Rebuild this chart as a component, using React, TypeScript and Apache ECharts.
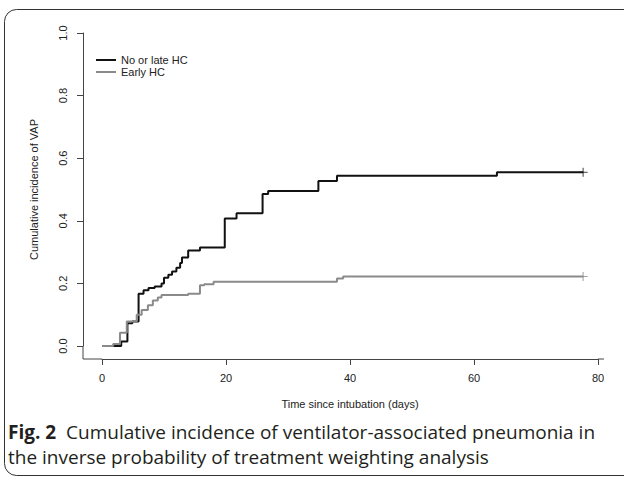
import React, { useEffect, useRef } from "react";
import * as echarts from "echarts";

// Time since intubation (days) and cumulative incidence
const lateTimes = [0, 3.1, 4.1, 4.9, 5.9, 6.7, 7.5, 8.5, 9.6, 10.0, 10.7, 11.3, 12.0, 12.6, 12.9, 13.9, 15.8, 19.8, 21.7, 25.9, 26.8, 34.9, 37.9, 63.7, 77.6];
const lateValues = [0, 0.014, 0.073, 0.078, 0.167, 0.178, 0.185, 0.19, 0.2, 0.218, 0.228, 0.238, 0.25, 0.265, 0.283, 0.305, 0.315, 0.407, 0.424, 0.486, 0.495, 0.527, 0.544, 0.555, 0.555];

const earlyTimes = [0, 1.8, 2.9, 4.0, 5.6, 6.4, 7.4, 8.2, 9.0, 9.6, 13.9, 15.8, 16.5, 18.0, 37.9, 38.9, 77.6];
const earlyValues = [0, 0.006, 0.042, 0.078, 0.1, 0.115, 0.13, 0.145, 0.155, 0.163, 0.167, 0.194, 0.197, 0.205, 0.216, 0.222, 0.222];

const seriesNames = ["No or late HC", "Early HC"];
const xTicks = { min: 0, max: 80, interval: 20 };
const yTicks = { min: 0, max: 1, interval: 0.2 };

const xTitle = "Time since intubation (days)";
const yTitle = "Cumulative incidence of VAP";
const captionBold = "Fig. 2";
const captionLine1 = "Cumulative incidence of ventilator-associated pneumonia in";
const captionLine2 = "the inverse probability of treatment weighting analysis";

const pairs = (t: number[], v: number[]) => t.map((x, i) => [x, v[i]]);

const PLUS = "path://M0,5L10,5M5,0L5,10";

export default function App() {
  const ref = useRef<HTMLDivElement>(null);
  useEffect(() => {
    if (!ref.current) return;
    const chart = echarts.init(ref.current, null, { renderer: "svg" });
    const axisColor = "#444";
    const font = "Liberation Sans, Arial, sans-serif";
    const lastLate = lateTimes.length - 1;
    const lastEarly = earlyTimes.length - 1;
    chart.setOption({
      animation: false,
      backgroundColor: "#fff",
      grid: { left: 102, right: 26, top: 33, bottom: 133, containLabel: false },
      legend: {
        data: seriesNames,
        orient: "vertical",
        left: 91,
        top: 49,
        itemGap: 0,
        itemWidth: 20,
        itemHeight: 2,
        icon: "rect",
        textStyle: { fontSize: 11, color: "#222", fontFamily: font, lineHeight: 12 },
      },
      xAxis: {
        type: "value",
        min: xTicks.min,
        max: xTicks.max,
        interval: xTicks.interval,
        offset: 13,
        axisLine: { show: true, onZero: false, lineStyle: { color: axisColor, width: 1 } },
        axisTick: { show: true, length: 6, lineStyle: { color: axisColor } },
        axisLabel: { fontSize: 11, color: "#222", fontFamily: font, margin: 13 },
        splitLine: { show: false },
        name: xTitle,
        nameLocation: "middle",
        nameGap: 39,
        nameTextStyle: { fontSize: 11, color: "#222", fontFamily: font },
      },
      yAxis: {
        type: "value",
        min: yTicks.min,
        max: yTicks.max,
        interval: yTicks.interval,
        offset: 19,
        axisLine: { show: true, onZero: false, lineStyle: { color: axisColor, width: 1 } },
        axisTick: { show: true, length: 6, lineStyle: { color: axisColor } },
        axisLabel: {
          fontSize: 11,
          color: "#222",
          fontFamily: font,
          rotate: 90,
          margin: 15,
          formatter: (v: number) => v.toFixed(1),
        },
        splitLine: { show: false },
        name: yTitle,
        nameLocation: "middle",
        nameGap: 44,
        nameRotate: 90,
        nameTextStyle: { fontSize: 11, color: "#222", fontFamily: font },
      },
      series: [
        {
          name: seriesNames[0],
          type: "line",
          step: "end",
          symbol: "none",
          data: pairs(lateTimes, lateValues),
          lineStyle: { color: "#111", width: 2 },
          itemStyle: { color: "#111" },
        },
        {
          name: seriesNames[1],
          type: "line",
          step: "end",
          symbol: "none",
          data: pairs(earlyTimes, earlyValues),
          lineStyle: { color: "#8a8a8a", width: 2 },
          itemStyle: { color: "#8a8a8a" },
        },
        {
          type: "scatter",
          symbol: PLUS,
          symbolSize: 9,
          data: [[lateTimes[lastLate], lateValues[lastLate]]],
          itemStyle: { color: "none", borderColor: "#111", borderWidth: 1 },
        },
        {
          type: "scatter",
          symbol: PLUS,
          symbolSize: 9,
          data: [[earlyTimes[lastEarly], earlyValues[lastEarly]]],
          itemStyle: { color: "none", borderColor: "#8a8a8a", borderWidth: 1 },
        },
      ],
      graphic: [
        {
          type: "rect",
          shape: { x: 4.5, y: 9.5, width: 680, height: 466, r: 12 },
          style: { fill: "none", stroke: "#333", lineWidth: 1 },
          silent: true,
        },
        {
          type: "polyline",
          shape: { points: [[83, 346], [83, 359], [102, 359]] },
          style: { stroke: axisColor, lineWidth: 1, fill: "none" },
          silent: true,
        },
        {
          type: "line",
          shape: { x1: 598, y1: 359, x2: 604, y2: 359 },
          style: { stroke: axisColor, lineWidth: 1 },
          silent: true,
        },
        {
          type: "text",
          left: 8,
          top: 419,
          style: {
            text: `{b|${captionBold}}  ${captionLine1}\n${captionLine2}`,
            fill: "#231f20",
            font: "19px 'Open Sans', sans-serif",
            lineHeight: 25,
            rich: {
              b: { fontWeight: "bold", fontSize: 19, fontFamily: "Open Sans", fill: "#231f20", lineHeight: 25 },
            },
          },
        },
      ],
    });
    return () => chart.dispose();
  }, []);
  return <div ref={ref} style={{ position: "absolute", left: 0, top: 0, width: 624, height: 479 }} />;
}
